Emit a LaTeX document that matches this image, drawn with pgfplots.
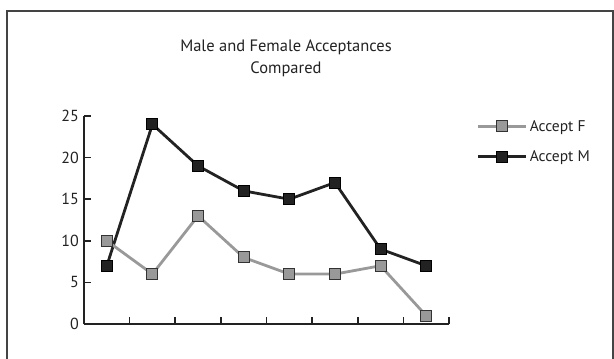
\documentclass[border=0pt]{standalone}
\usepackage{pgfplots}
\pgfplotsset{compat=1.18}
\usepackage{fontspec}
\setmainfont{PT Sans}
\definecolor{fgray}{HTML}{999999}
\definecolor{fedge}{HTML}{333333}
\definecolor{framec}{HTML}{444444}
\definecolor{txt}{HTML}{222222}
\begin{document}
\begin{tikzpicture}
\useasboundingbox (0bp,0bp) rectangle (614bp,359bp);
\begin{scope}
\clip (0bp,0bp) rectangle (614bp,359bp);
\draw[framec, line width=1.2bp] (7bp,-10bp) rectangle (613bp,348bp);
\end{scope}
\node[font=\fontsize{16.5bp}{22bp}\selectfont, align=center, text=txt] at (286bp,301bp) {Male and Female Acceptances\\Compared};
\begin{axis}[
  at={(84bp,35bp)}, anchor=south west,
  scale only axis, width=365bp, height=208bp,
  xmin=0, xmax=8, ymin=0, ymax=25,
  xtick={0,...,8}, xticklabels={},
  ytick={0,5,...,25},
  axis x line*=bottom, axis y line*=left,
  axis line style={line width=2bp, txt},
  tick style={line width=1.6bp, txt},
  major tick length=7bp, tick align=inside,
  clip=false,
  /pgf/number format/assume math mode=true,
  yticklabel style={font=\fontsize{16bp}{18bp}\selectfont, text=txt, inner sep=1bp, xshift=-4bp},
  legend style={at={(393bp,206bp)}, anchor=north west, draw=none, fill=none,
    font=\fontsize{15.5bp}{18bp}\selectfont, text=txt, row sep=14bp, inner sep=0pt, outer sep=0pt,
    /tikz/every even column/.append style={column sep=5bp}},
  legend cell align=left,
  reverse legend,
  legend image code/.code={\draw[#1, mark repeat=2, mark phase=2] plot coordinates {(0bp,0bp) (24bp,0bp) (48bp,0bp)};},
]
\addplot[txt, line width=2.8bp, mark=square*, mark size=5.5bp, mark options={fill=txt, draw=black, line width=1bp}]
  coordinates {(0.5,7) (1.5,24) (2.5,19) (3.5,16) (4.5,15) (5.5,17) (6.5,9) (7.5,7)};
\addlegendentry{Accept M}
\addplot[fgray, line width=2.8bp, mark=square*, mark size=5.5bp, mark options={fill=fgray, draw=fedge, line width=1bp}]
  coordinates {(0.5,10) (1.5,6) (2.5,13) (3.5,8) (4.5,6) (5.5,6) (6.5,7) (7.5,1)};
\addlegendentry{Accept F}
\end{axis}
\end{tikzpicture}
\end{document}
